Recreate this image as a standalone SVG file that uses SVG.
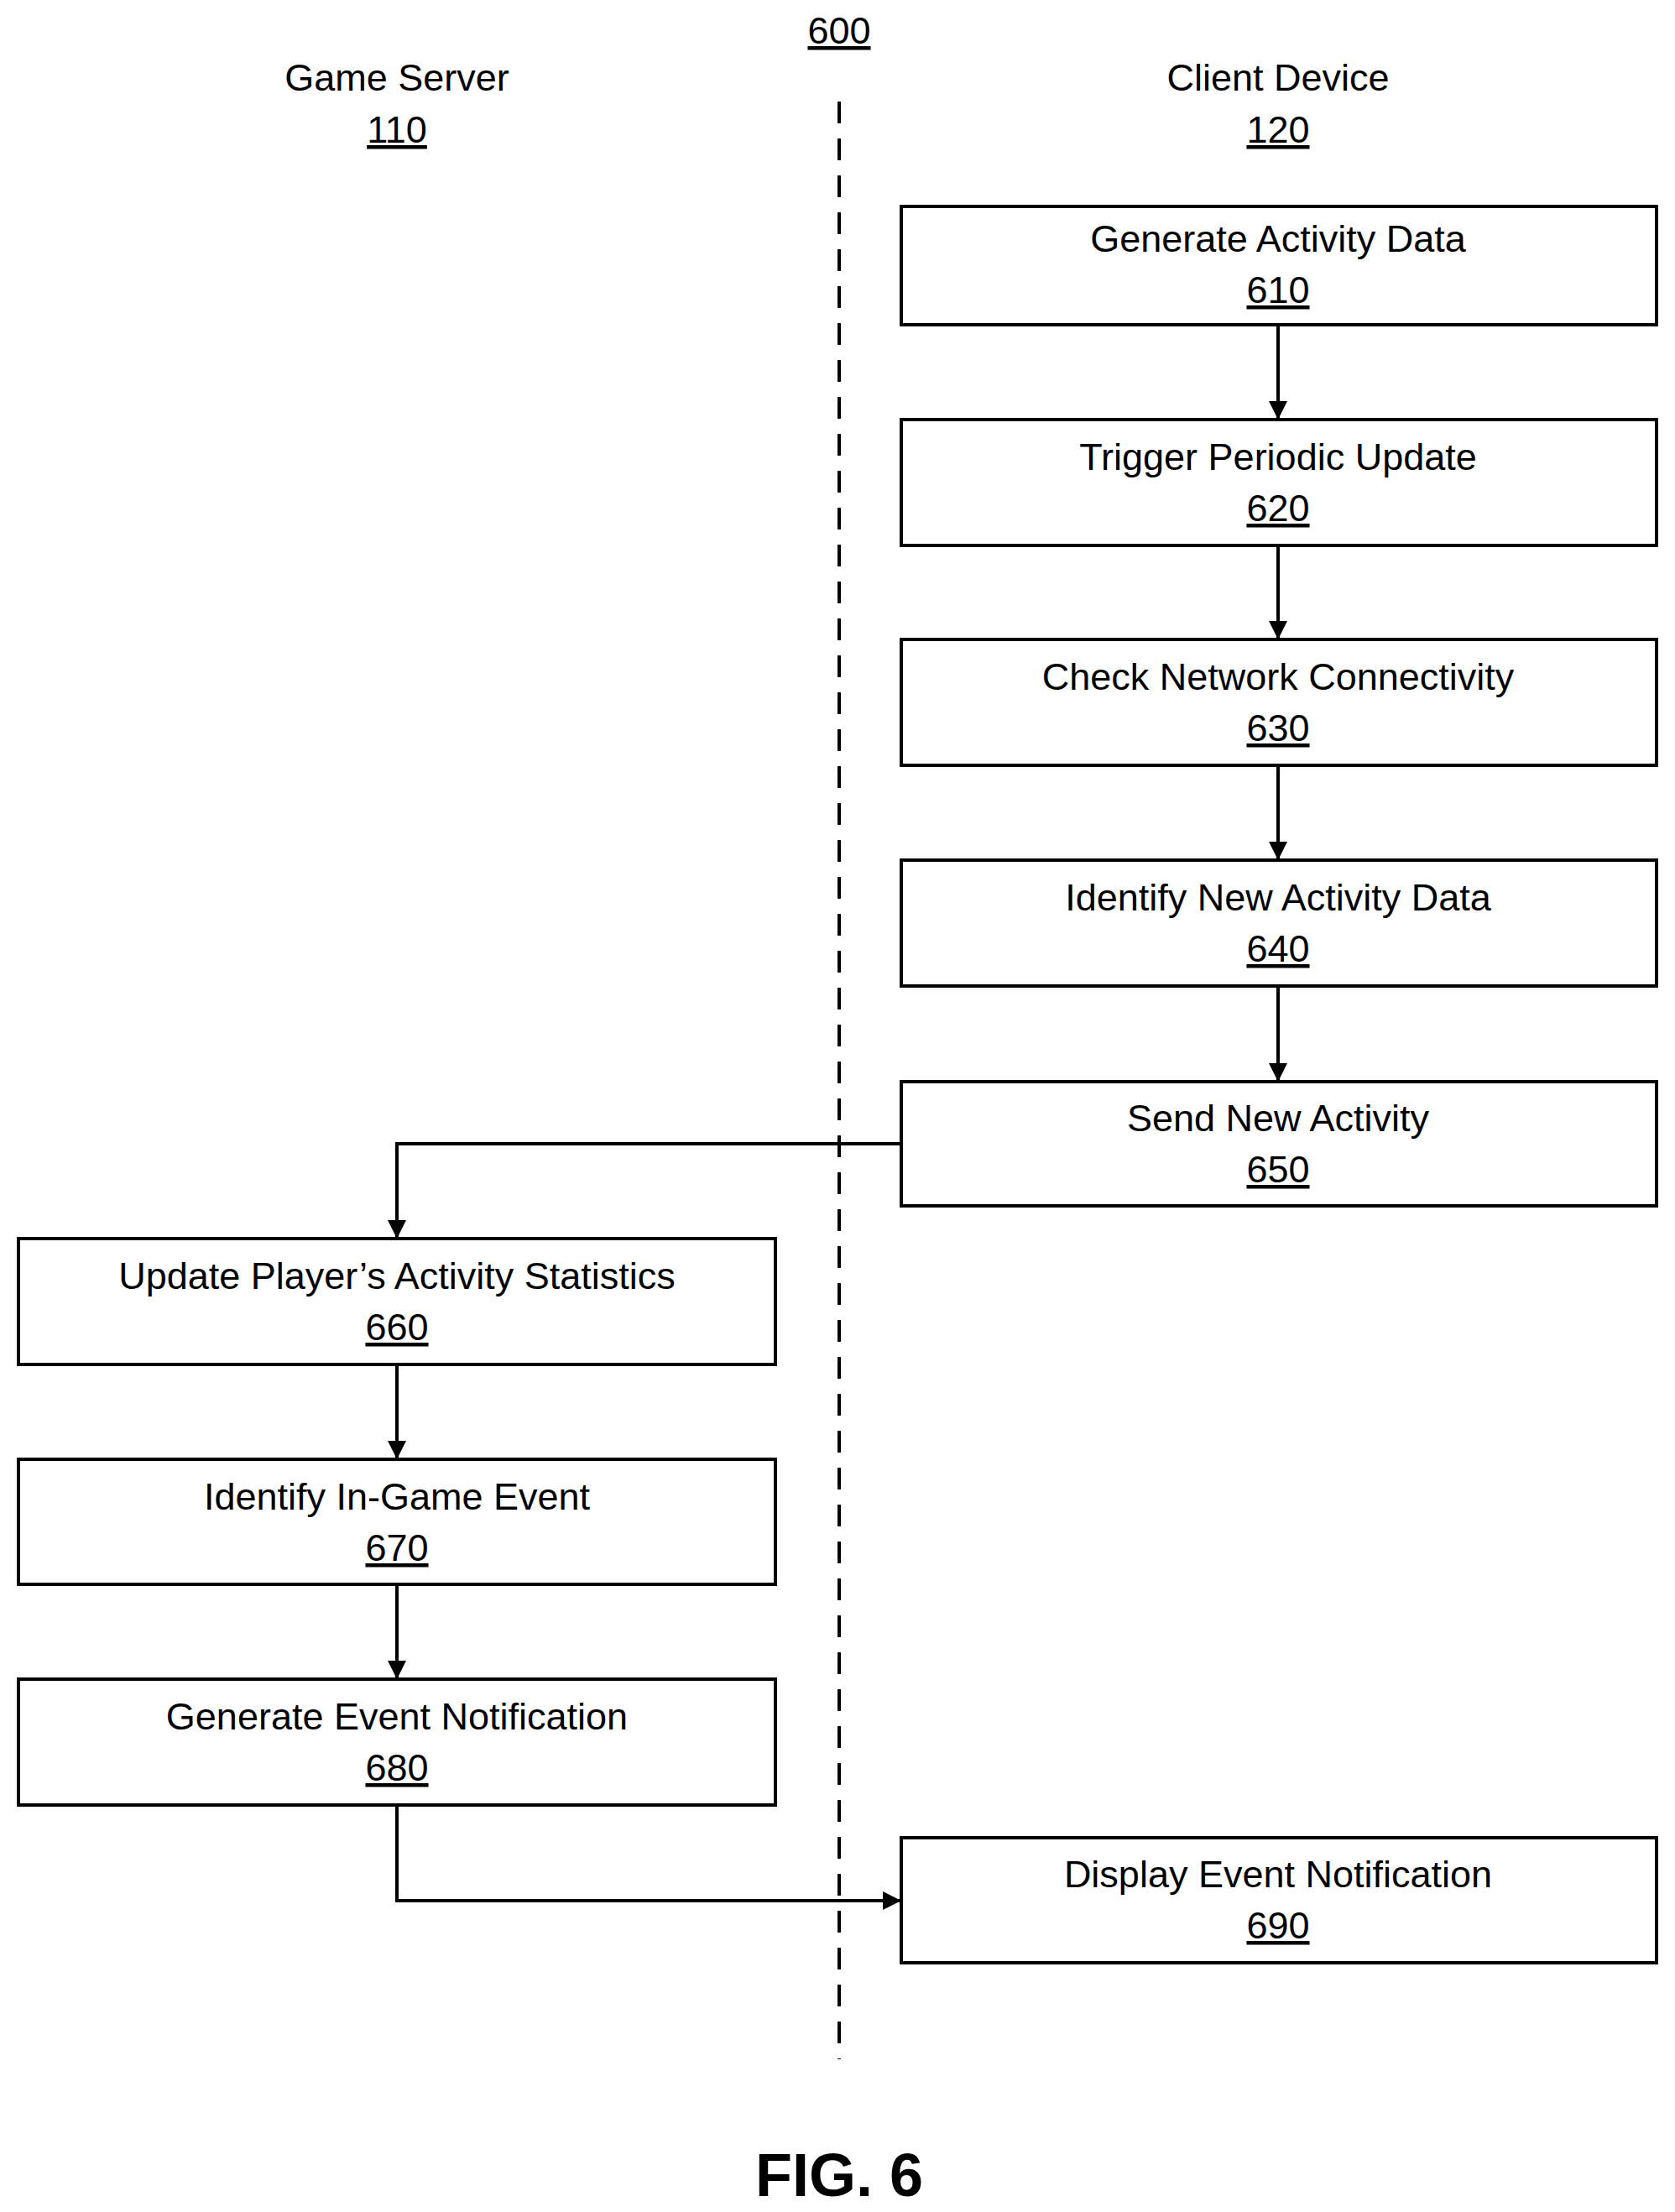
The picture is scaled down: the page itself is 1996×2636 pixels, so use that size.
<svg xmlns="http://www.w3.org/2000/svg" width="1996" height="2636" viewBox="0 0 1996 2636">
<style>
text{font-family:"Liberation Sans",Arial,sans-serif;font-size:45px;fill:#000;text-anchor:middle}
.u{text-decoration:underline}
rect{fill:#fff;stroke:#000;stroke-width:4}
.c{fill:none;stroke:#000;stroke-width:4}
</style>
<defs><marker id="a" markerWidth="8" markerHeight="8" refX="7" refY="4" orient="auto" markerUnits="userSpaceOnUse" viewBox="0 0 8 8"><path d="M0,0L8,4L0,8z"/></marker>
<marker id="ah" viewBox="0 0 10 10" refX="10" refY="5" markerWidth="22" markerHeight="22" markerUnits="userSpaceOnUse" orient="auto"><path d="M0,0L10,5L0,10z" fill="#000"/></marker></defs>
<rect width="1996" height="2636" style="fill:#fff;stroke:none"/>
<text x="1000" y="52" class="u">600</text>
<text x="473" y="108">Game Server</text><text x="473" y="170" class="u">110</text>
<text x="1523" y="108">Client Device</text><text x="1523" y="170" class="u">120</text>
<line x1="1000" y1="121" x2="1000" y2="2454" stroke="#000" stroke-width="4" stroke-dasharray="26,18"/>
<g id="connectors">
<path class="c" d="M1523,387V500" marker-end="url(#ah)"/>
<path class="c" d="M1523,650V762" marker-end="url(#ah)"/>
<path class="c" d="M1523,912V1025" marker-end="url(#ah)"/>
<path class="c" d="M1523,1175V1289" marker-end="url(#ah)"/>
<path class="c" d="M1074,1363H473V1476" marker-end="url(#ah)"/>
<path class="c" d="M473,1626V1739" marker-end="url(#ah)"/>
<path class="c" d="M473,1888V2001" marker-end="url(#ah)"/>
<path class="c" d="M473,2151V2265H1074" marker-end="url(#ah)"/>
</g>
<g id="n610"><rect x="1074" y="246" width="900" height="141"/><text x="1523" y="300">Generate Activity Data</text><text x="1523" y="361" class="u">610</text></g>
<g id="n620"><rect x="1074" y="500" width="900" height="150"/><text x="1523" y="560">Trigger Periodic Update</text><text x="1523" y="621" class="u">620</text></g>
<g id="n630"><rect x="1074" y="762" width="900" height="150"/><text x="1523" y="822">Check Network Connectivity</text><text x="1523" y="883" class="u">630</text></g>
<g id="n640"><rect x="1074" y="1025" width="900" height="150"/><text x="1523" y="1085">Identify New Activity Data</text><text x="1523" y="1146" class="u">640</text></g>
<g id="n650"><rect x="1074" y="1289" width="900" height="148"/><text x="1523" y="1348">Send New Activity</text><text x="1523" y="1409" class="u">650</text></g>
<g id="n660"><rect x="22" y="1476" width="902" height="150"/><text x="473" y="1536">Update Player’s Activity Statistics</text><text x="473" y="1597" class="u">660</text></g>
<g id="n670"><rect x="22" y="1739" width="902" height="149"/><text x="473" y="1799">Identify In-Game Event</text><text x="473" y="1860" class="u">670</text></g>
<g id="n680"><rect x="22" y="2001" width="902" height="150"/><text x="473" y="2061">Generate Event Notification</text><text x="473" y="2122" class="u">680</text></g>
<g id="n690"><rect x="1074" y="2190" width="900" height="149"/><text x="1523" y="2249">Display Event Notification</text><text x="1523" y="2310" class="u">690</text></g>
<text x="1000" y="2617" style="font-size:72px;font-weight:bold">FIG. 6</text>
</svg>
